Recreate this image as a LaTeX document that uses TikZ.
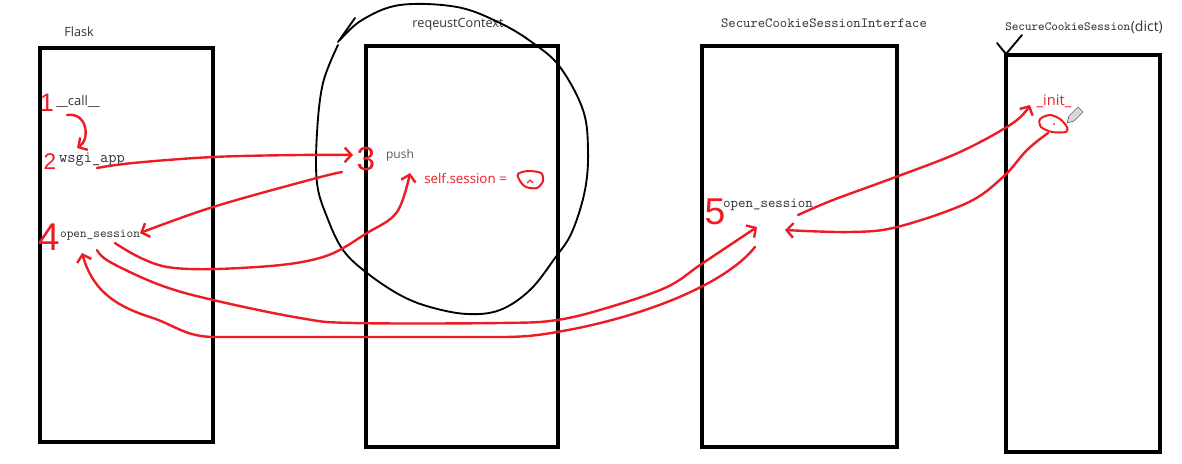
\documentclass[tikz,border=0pt]{standalone}
\usepackage{fontspec}
\setsansfont{Open Sans}
\setmainfont{Liberation Sans}
\usetikzlibrary{arrows.meta}
\definecolor{pen}{RGB}{237,28,36}
\definecolor{txt}{RGB}{50,50,60}
\definecolor{graytxt}{RGB}{90,90,90}
\tikzset{
  box/.style={draw=black, line width=3pt},
  sketch/.style={draw=black, line width=1.4pt, line join=round, line cap=round},
  redline/.style={draw=pen, line width=1.8pt, line cap=round, line join=round},
  redarrow/.style={redline, -{Straight Barb[length=5pt,width=11pt]}},
  ttl/.style={font=\sffamily\fontsize{9.5pt}{11pt}\selectfont, text=txt, inner sep=0pt},
  mono/.style={font=\ttfamily, text=txt, inner sep=0pt},
  numb/.style={text=pen, inner sep=0pt, font=\rmfamily},
}
\begin{document}
\begin{tikzpicture}[x=0.75pt,y=-0.75pt]
\useasboundingbox (0,0) rectangle (1182,464);

% boxes
\draw[box] (40,48) rectangle (213,442);
\draw[box] (366,46) rectangle (558,447);
\draw[box] (702,46) rectangle (897,447);
\draw[box] (1006,55) rectangle (1160,452);

% titles
\node[ttl] (tflask) at (79,32) {Flask};
\node[ttl] (treq) at (458,24) {reqeustContext};
\node[mono, font=\ttfamily\fontsize{10.5pt}{12pt}\selectfont] (tscsi) at (824,23) {SecureCookieSessionInterface};
\node[mono, font=\ttfamily\fontsize{9.4pt}{11pt}\selectfont, anchor=west] (tscs) at (1005,27) {SecureCookieSession};
\node[ttl, font=\sffamily\fontsize{10.5pt}{12pt}\selectfont, anchor=west] (tdict) at (tscs.east) {(dict)};

% circle round requestContext
\draw[sketch] plot[smooth, tension=0.6] coordinates {(340,40) (362,20) (400,5) (457,7) (500,23) (533,43) (560,67) (583,110) (588,150) (585,190) (572,232) (555,258) (530,290) (500,310) (467,314) (430,307) (400,295) (367,273) (343,250) (327,217) (317,183) (317,133) (323,83) (338,45)};
\draw[sketch] (338,42) -- (355,18);
% check mark on SecureCookieSession
\draw[sketch] (997,43) -- (1006,54) -- (1022,35);

% texts inside
\node[ttl, font=\sffamily\fontsize{9.75pt}{11pt}\selectfont] (call) at (78,102) {\_\_call\_\_};
\node[mono, font=\ttfamily\fontsize{12pt}{13pt}\selectfont] (wsgi) at (92,160) {wsgi\_app};
\node[mono, font=\ttfamily\fontsize{9.5pt}{11pt}\selectfont] (os1) at (100,235) {open\_session};
\node[ttl, text=graytxt, font=\sffamily\fontsize{9pt}{11pt}\selectfont] (push) at (400,155) {push};
\node[ttl, text=pen, font=\sffamily\fontsize{10pt}{12pt}\selectfont, anchor=west] (selfs) at (424,178) {self.session =};
\node[mono, font=\ttfamily\fontsize{10.7pt}{12pt}\selectfont] (os2) at (768,205) {open\_session};
\node[ttl, text=pen, font=\sffamily\fontsize{11pt}{12pt}\selectfont] (init) at (1054,101) {\_init\_};

% numbers
\node[numb, font=\rmfamily\fontsize{19pt}{20pt}\selectfont] (n1) at (47,103) {1};
\node[numb, font=\rmfamily\fontsize{17pt}{18pt}\selectfont] (n2) at (50,162) {2};
\node[numb, font=\rmfamily\fontsize{25pt}{26pt}\selectfont] (n3) at (366,159) {3};
\node[numb, font=\rmfamily\fontsize{29pt}{30pt}\selectfont] (n4) at (49,237) {4};
\node[numb, font=\rmfamily\fontsize{28pt}{30pt}\selectfont] (n5) at (715,212) {5};

% blobs
\draw[redline, line width=1.5pt] plot[smooth cycle, tension=0.5] coordinates {(518,174) (528,171) (541,173) (543,181) (537,188) (526,187) (520,181)};
\draw[pen, line width=0.8pt] (527,183) -- (530,180) -- (533,183);
\draw[redline, line width=1.5pt] plot[smooth cycle, tension=0.5] coordinates {(1040,119) (1050,115) (1060,119) (1067,127) (1066,132) (1052,132) (1041,127)};
\fill[pen] (1054,124) circle (1);
% pencil cursor
\draw[gray!80!black, fill=gray!30, line width=0.5pt] (1067,123) -- (1069,116) -- (1078,107) -- (1083,112) -- (1074,121) -- cycle;

% arrow endpoints
\coordinate (a1s) at (67,115);
\coordinate (a1e) at (77,148);
\coordinate (a2s) at (97,168);
\coordinate (a2e) at (353,155);
\coordinate (a3s) at (342,172);
\coordinate (a3e) at (140,233);
\coordinate (a4s) at (115,243);
\coordinate (a4e) at (410,173);
\coordinate (a5s) at (97,250);
\coordinate (a5e) at (757,227);
\coordinate (a6s) at (755,247);
\coordinate (a6e) at (82,253);
\coordinate (a7s) at (798,215);
\coordinate (a7e) at (1030,105);
\coordinate (a8s) at (1048,133);
\coordinate (a8e) at (785,230);

% arrows
\draw[redarrow] (a1s) .. controls (88,112) and (90,140) .. (a1e);
\draw[redarrow] plot[smooth, tension=0.6] coordinates {(a2s) (133,163) (213,157) (300,155) (a2e)};
\draw[redarrow] plot[smooth, tension=0.6] coordinates {(a3s) (313,179) (213,207) (a3e)};
\draw[redarrow] plot[smooth, tension=0.6] coordinates {(a4s) (167,267) (257,267) (323,257) (367,233) (397,212) (a4e)};
\draw[redarrow] plot[smooth, tension=0.6] coordinates {(a5s) (110,262) (160,285) (213,300) (300,318) (353,323) (500,323) (557,320) (610,307) (667,287) (700,265) (733,243) (a5e)};
\draw[redarrow] (a6s) .. controls (725,285) and (640,318) .. (557,332) .. controls (535,336) and (520,337) .. (500,337) -- (215,337) .. controls (185,337) and (175,325) .. (150,317) .. controls (112,305) and (92,288) .. (a6e);
\draw[redarrow] plot[smooth, tension=0.6] coordinates {(a7s) (833,200) (893,178) (960,152) (1013,123) (a7e)};
\draw[redarrow] plot[smooth, tension=0.6] coordinates {(a8s) (1027,150) (1003,177) (967,203) (897,227) (850,232) (a8e)};
\end{tikzpicture}
\end{document}
